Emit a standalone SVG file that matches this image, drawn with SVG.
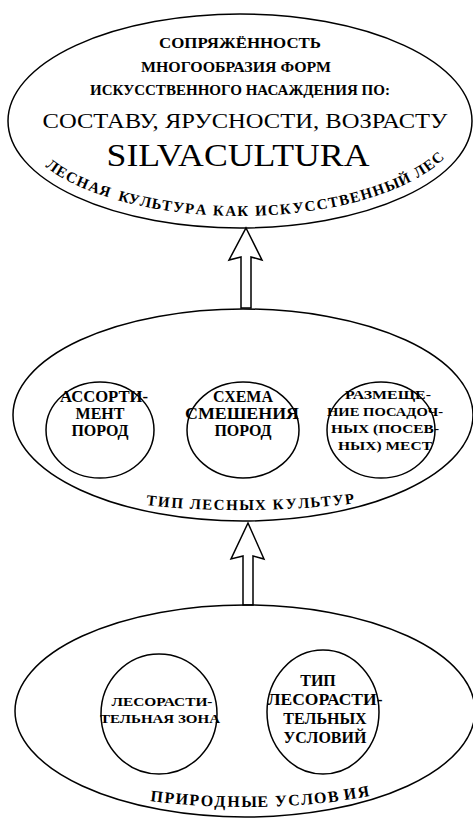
<svg xmlns="http://www.w3.org/2000/svg" width="473" height="818" viewBox="0 0 473 818">
<style>
.sh{fill:none;stroke:#000;stroke-width:1.5}
.ar{fill:#fff;stroke:#000;stroke-width:1.5;stroke-linejoin:miter}
</style>
<g id="connectors">
<path class="ar" d="M 246 228 L 262 260 L 251 257 L 251 308 L 241 308 L 241 257 L 229 260 Z"/>
<path class="ar" d="M 248 523 L 264 559 L 253 556 L 253 605 L 243 605 L 243 556 L 231 559 Z"/>
</g>
<g id="top">
<ellipse class="sh" cx="240" cy="121" rx="232" ry="107"/>
<text style="font-family:'Liberation Serif',serif;font-weight:bold" text-anchor="middle" font-size="14" x="240" y="48" textLength="162" lengthAdjust="spacingAndGlyphs">СОПРЯЖЁННОСТЬ</text>
<text style="font-family:'Liberation Serif',serif;font-weight:bold" text-anchor="middle" font-size="14" x="236" y="72" textLength="190" lengthAdjust="spacingAndGlyphs">МНОГООБРАЗИЯ ФОРМ</text>
<text style="font-family:'Liberation Serif',serif;font-weight:bold" text-anchor="middle" font-size="14" x="240" y="95" textLength="300" lengthAdjust="spacingAndGlyphs">ИСКУССТВЕННОГО НАСАЖДЕНИЯ ПО:</text>
<text style="font-family:'Liberation Serif',serif" text-anchor="middle" font-size="20" x="245" y="128" textLength="405" lengthAdjust="spacingAndGlyphs">СОСТАВУ, ЯРУСНОСТИ, ВОЗРАСТУ</text>
<text style="font-family:'Liberation Serif',serif" text-anchor="middle" font-size="31" x="238" y="166" textLength="263" lengthAdjust="spacingAndGlyphs">SILVACULTURA</text>
<text style="font-family:'Liberation Serif',serif;font-weight:bold" font-size="15" x="45.0 54.7 64.5 75.3 87.4 98.3 110.0 117.6 127.5 139.2 151.1 161.2 172.6 184.5 195.2 207.0 212.8 225.2 237.3 250.1 255.2 268.3 280.3 293.2 305.2 317.4 329.3 340.2 351.2 362.1 374.5 386.9 401.2 412.8 417.2 427.7 436.7" y="166.5 173.4 179.2 184.7 190.0 194.1 198.1 200.2 202.9 205.6 208.0 209.8 211.5 213.0 214.0 214.9 215.3 215.8 216.0 215.9 215.8 215.2 214.4 213.2 211.8 210.0 208.0 205.8 203.2 200.3 196.6 192.2 186.3 180.7 178.3 171.9 165.2" rotate="35.2 30.6 26.9 23.6 20.7 18.3 17 15.2 13.2 11.5 9.9 8.5 7.0 5.7 4.3 3 2.4 1.0 -0.4 -1.5 -2.4 -3.8 -5.3 -6.8 -8.2 -9.8 -11.4 -13.1 -14.8 -16.9 -19.3 -22.4 -26.0 -29 -31.5 -36.2 -42.1">ЛЕСНАЯ КУЛЬТУРА КАК ИСКУССТВЕННЫЙ ЛЕС</text>
</g>
<g id="middle">
<ellipse class="sh" cx="243" cy="415" rx="230" ry="106"/>
<text style="font-family:'Liberation Serif',serif;font-weight:bold" font-size="15" x="146 157.6 170.9 184.2 189.55 201.95 213.55 225.95 239.25 254.95 267.35 272.7 286.0 298.4 310.8 321.6 333.2 345.6" y="505 506.3 507.4 508.3 508.7 509.2 509.6 509.9 510.0 509.9 509.7 509.6 509.1 508.5 507.6 506.8 505.7 504.5" rotate="6.5 5.6 4.6 3.9 3.2 2.5 1.6 0.8 -0.3 -1.3 -1.7 -2.5 -3.4 -4.3 -5.2 -6.0 -7.0 -7.9">ТИП ЛЕСНЫХ КУЛЬТУР</text>
</g>
<g id="assortiment">
<ellipse class="sh" cx="100" cy="430" rx="54" ry="48"/>
<text style="font-family:'Liberation Serif',serif;font-weight:bold" text-anchor="middle" font-size="16" x="104" y="402" textLength="88" lengthAdjust="spacingAndGlyphs">АССОРТИ-</text>
<text style="font-family:'Liberation Serif',serif;font-weight:bold" text-anchor="middle" font-size="16" x="100" y="419">МЕНТ</text>
<text style="font-family:'Liberation Serif',serif;font-weight:bold" text-anchor="middle" font-size="16" x="100" y="436">ПОРОД</text>
</g>
<g id="skhema">
<ellipse class="sh" cx="243" cy="430" rx="56" ry="48"/>
<text style="font-family:'Liberation Serif',serif;font-weight:bold" text-anchor="middle" font-size="16" x="243" y="402">СХЕМА</text>
<text style="font-family:'Liberation Serif',serif;font-weight:bold" text-anchor="middle" font-size="16" x="242" y="419" textLength="114" lengthAdjust="spacingAndGlyphs">СМЕШЕНИЯ</text>
<text style="font-family:'Liberation Serif',serif;font-weight:bold" text-anchor="middle" font-size="16" x="243" y="436">ПОРОД</text>
</g>
<g id="razmeshchenie">
<ellipse class="sh" cx="381" cy="430" rx="54" ry="48"/>
<text style="font-family:'Liberation Serif',serif;font-weight:bold" text-anchor="middle" font-size="13.5" x="388" y="399" textLength="86" lengthAdjust="spacingAndGlyphs">РАЗМЕЩЕ-</text>
<text style="font-family:'Liberation Serif',serif;font-weight:bold" text-anchor="middle" font-size="13.5" x="385" y="416" textLength="116" lengthAdjust="spacingAndGlyphs">НИЕ ПОСАДОЧ-</text>
<text style="font-family:'Liberation Serif',serif;font-weight:bold" text-anchor="middle" font-size="13.5" x="385" y="433" textLength="108" lengthAdjust="spacingAndGlyphs">НЫХ (ПОСЕВ-</text>
<text style="font-family:'Liberation Serif',serif;font-weight:bold" text-anchor="middle" font-size="13.5" x="385" y="450" textLength="94" lengthAdjust="spacingAndGlyphs">НЫХ) МЕСТ</text>
</g>
<g id="bottom">
<ellipse class="sh" cx="245" cy="711" rx="230" ry="106"/>
<text style="font-family:'Liberation Serif',serif;font-weight:bold" font-size="16" x="150.0 163.9 175.2 189.1 200.4 214.3 227.3 241.2 257.6 269.8 275.3 288.4 301.5 314.5 328.4 344.6 358.5" y="801.0 802.7 803.8 805.0 805.7 806.4 806.8 807.0 806.9 806.6 806.4 805.8 804.9 803.8 802.4 800.1 798.0" rotate="6.8 5.8 4.8 3.8 2.8 1.8 0.8 -0.3 -1.4 -1.8 -2.7 -3.7 -4.8 -5.9 -7.0 -8.5 -9.8">ПРИРОДНЫЕ УСЛОВИЯ</text>
</g>
<g id="zona">
<ellipse class="sh" cx="159" cy="714" rx="58" ry="60"/>
<text style="font-family:'Liberation Serif',serif;font-weight:bold" text-anchor="middle" font-size="13" x="162" y="706" textLength="101" lengthAdjust="spacingAndGlyphs">ЛЕСОРАСТИ-</text>
<text style="font-family:'Liberation Serif',serif;font-weight:bold" text-anchor="middle" font-size="13" x="160" y="723" textLength="120" lengthAdjust="spacingAndGlyphs">ТЕЛЬНАЯ ЗОНА</text>
</g>
<g id="tip">
<ellipse class="sh" cx="323" cy="712" rx="56" ry="62"/>
<text style="font-family:'Liberation Serif',serif;font-weight:bold" text-anchor="middle" font-size="16" x="318" y="686">ТИП</text>
<text style="font-family:'Liberation Serif',serif;font-weight:bold" text-anchor="middle" font-size="16" x="325" y="705" textLength="115" lengthAdjust="spacingAndGlyphs">ЛЕСОРАСТИ-</text>
<text style="font-family:'Liberation Serif',serif;font-weight:bold" text-anchor="middle" font-size="16" x="325" y="724">ТЕЛЬНЫХ</text>
<text style="font-family:'Liberation Serif',serif;font-weight:bold" text-anchor="middle" font-size="16" x="325" y="743">УСЛОВИЙ</text>
</g>
</svg>
